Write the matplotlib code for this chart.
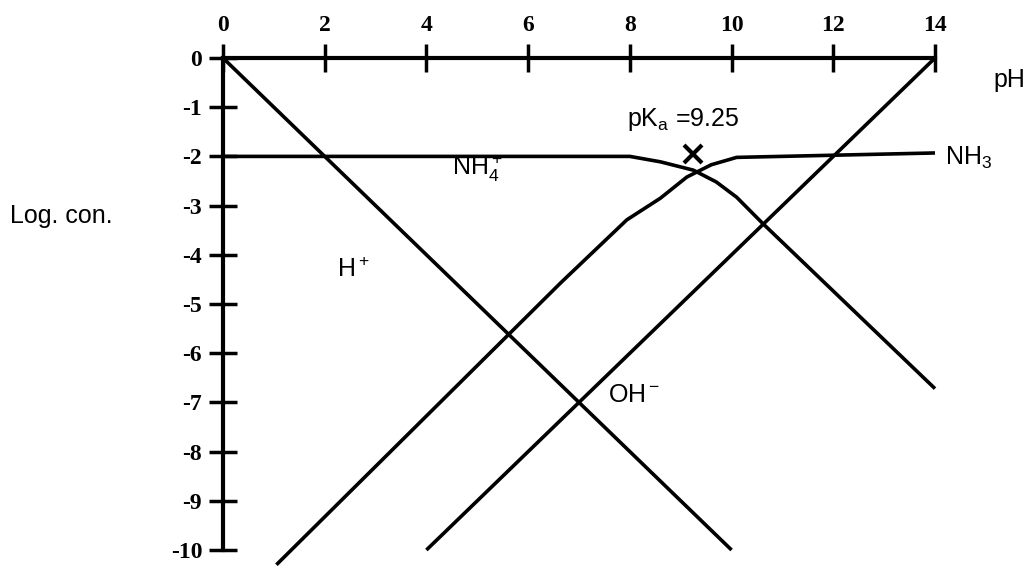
import matplotlib
matplotlib.use("Agg")
import matplotlib.pyplot as plt

# ---- data ----
ph_ticks = [0, 2, 4, 6, 8, 10, 12, 14]
log_ticks = [0, -1, -2, -3, -4, -5, -6, -7, -8, -9, -10]

h_ph = [0, 10]
h_log = [0, -10]

oh_ph = [4, 14]
oh_log = [-10, 0]

nh4_ph = [0, 8.0, 8.6, 9.25, 9.7, 10.1, 10.6, 14]
nh4_log = [-2, -2, -2.11, -2.28, -2.52, -2.83, -3.35, -6.72]

nh3_ph = [1.05, 6.64, 7.94, 8.6, 9.12, 9.6, 10.1, 14]
nh3_log = [-10.3, -4.57, -3.29, -2.85, -2.42, -2.17, -2.02, -1.93]

pka = 9.25
pka_mark_log = -1.95

plt.rcParams['mathtext.fontset'] = 'custom'
plt.rcParams['mathtext.rm'] = 'Liberation Sans'
plt.rcParams['mathtext.it'] = 'Liberation Sans:italic'
plt.rcParams['mathtext.bf'] = 'Liberation Sans:bold'

W, H = 1029, 567
fig = plt.figure(figsize=(W / 100, H / 100), dpi=100)
ax = fig.add_axes([223 / W, (H - 550) / H, 712 / W, 492 / H])
ax.set_xlim(0, 14)
ax.set_ylim(-10, 0)

for s in ['right', 'bottom']:
    ax.spines[s].set_visible(False)
for s in ['top', 'left']:
    ax.spines[s].set_linewidth(3)

ax.xaxis.tick_top()
ax.set_xticks(ph_ticks)
ax.set_xticklabels([str(t) for t in ph_ticks])
ax.set_yticks(log_ticks)
ax.set_yticklabels([str(t) for t in log_ticks])
ax.tick_params(axis='both', direction='inout', length=20, width=2.5)
ax.tick_params(axis='x', pad=6)
ax.tick_params(axis='y', pad=5)
for lab in ax.get_xticklabels() + ax.get_yticklabels():
    lab.set_fontfamily('Liberation Serif')
    lab.set_fontweight('bold')
    lab.set_fontsize(17)

lw = 2.6
kw = dict(color='black', lw=lw, clip_on=False, solid_capstyle='butt')
ax.plot(h_ph, h_log, **kw)
ax.plot(oh_ph, oh_log, **kw)
ax.plot(nh4_ph, nh4_log, **kw)
ax.plot(nh3_ph, nh3_log, **kw)
ax.plot([pka], [pka_mark_log], marker='x', color='black', markersize=13,
        markeredgewidth=3, clip_on=False)

tkw = dict(fontsize=18, family='Liberation Sans', color='black', clip_on=False)
ax.text(15.14, -0.45, 'pH', ha='left', va='center', **tkw)
ax.text(-4.19, -3.21, 'Log. con.', ha='left', va='center', **tkw)
ax.text(7.94, -1.26, r'pK$_\mathrm{a}$ =9.25', ha='left', va='center', **tkw)
ax.text(5.01, -2.24, r'NH$_4^+$', ha='center', va='center', **tkw)
ax.text(14.2, -2.03, r'NH$_3$', ha='left', va='center', **tkw)
ax.text(2.24, -4.31, r'H$^+$', ha='left', va='center', **tkw)
ax.text(7.57, -6.85, r'OH$^-$', ha='left', va='center', **tkw)

fig.savefig('out.png', dpi=100, facecolor='white')
